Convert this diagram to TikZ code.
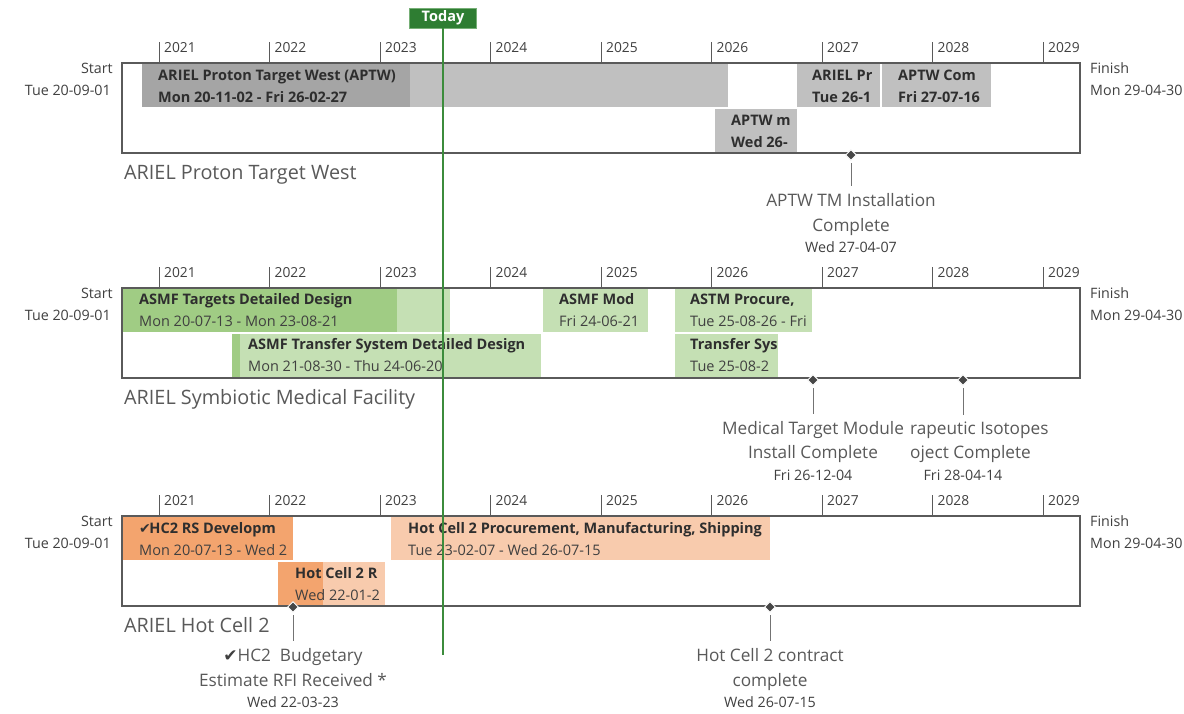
\documentclass[tikz,border=0pt]{standalone}
\usepackage{fontspec}
\setmainfont{Open Sans}
\usetikzlibrary{shapes.geometric}
\newcommand\pxf[1]{\fontsize{#1}{#1}\selectfont}
\definecolor{boxline}{HTML}{5A5A5A}
\definecolor{txtgray}{HTML}{404040}
\definecolor{lblgray}{HTML}{595959}
\definecolor{gDark}{HTML}{A5A5A5}
\definecolor{gLight}{HTML}{C0C0C0}
\definecolor{grDark}{HTML}{A0CC84}
\definecolor{grLight}{HTML}{C5E0B4}
\definecolor{orDark}{HTML}{F3A46E}
\definecolor{orLight}{HTML}{F8CBAD}
\definecolor{todayG}{HTML}{2E7D32}
\definecolor{todayL}{HTML}{3C8C3C}
\tikzset{
  bartitle/.style={anchor=mid west, inner sep=0pt, font=\pxf{14.5}\bfseries, text=black!82},
  bardate/.style={anchor=mid west, inner sep=0pt, font=\pxf{14.5}, text=txtgray},
  bardateb/.style={anchor=mid west, inner sep=0pt, font=\pxf{14.5}\bfseries, text=black!82},
  yearlbl/.style={anchor=mid west, inner sep=0pt, font=\pxf{13.8}, text=txtgray},
  ticks/.style={draw=boxline, line width=0.9pt},
  secbox/.style={draw=boxline, line width=1.3pt},
  sidelblR/.style={anchor=mid east, inner sep=0pt, font=\pxf{14.3}, text=txtgray},
  sidelblL/.style={anchor=mid west, inner sep=0pt, font=\pxf{14.3}, text=txtgray},
  sectitle/.style={anchor=mid west, inner sep=0pt, font=\pxf{19.8}, text=lblgray},
  mstone/.style={diamond, fill=black!72, draw=white, line width=1pt, minimum size=11pt, inner sep=0pt},
  mlbl/.style={anchor=mid, inner sep=0pt, font=\pxf{17.2}, text=lblgray},
  mdate/.style={anchor=mid, inner sep=0pt, font=\pxf{14.3}, text=txtgray},
  mlblw/.style={anchor=mid west, inner sep=0pt, font=\pxf{17.2}, text=lblgray},
  conn/.style={draw=black!55, line width=0.8pt},
}
\begin{document}
\begin{tikzpicture}[x=1pt,y=-1pt]
\useasboundingbox (0,0) rectangle (1184,713);
\fill[white] (0,0) rectangle (1184,713);

% ---------- common axes ----------
\foreach \T/\s in {63/a,288/b,516/c}{
  \foreach \i in {0,...,8}{
    \pgfmathsetmacro\xx{159+110.5*\i}
    \pgfmathtruncatemacro\yr{2021+\i}
    \draw[ticks] (\xx,\T-21) -- (\xx,\T);
    \node[yearlbl] (yr\s\i) at (\xx+5,\T-13) {\yr};
  }
  \node[sidelblR] (st\s) at (113,\T+8) {Start};
  \node[sidelblR] (sd\s) at (111,\T+30) {Tue 20-09-01};
  \node[sidelblL] (fi\s) at (1090,\T+8) {Finish};
  \node[sidelblL] (fd\s) at (1090,\T+30) {Mon 29-04-30};
}

% ---------- Section 1 ----------
\fill[gDark] (142,64) rectangle (410,107);
\fill[gLight] (410,64) rectangle (728,107);
\fill[gLight] (797,64) rectangle (880,107);
\fill[gLight] (882,64) rectangle (991,107);
\fill[gLight] (715,109) rectangle (797,153);
\draw[secbox] (122,63) rectangle (1080,153);
\node[bartitle] (a1t) at (158,78) {ARIEL Proton Target West (APTW)};
\node[bardateb] (a1d) at (158,100) {Mon 20-11-02 - Fri 26-02-27};
\node[bartitle] (a2t) at (812,78) {ARIEL Pr};
\node[bardateb] (a2d) at (812,100) {Tue 26-1};
\node[bartitle] (a3t) at (898,78) {APTW Com};
\node[bardateb] (a3d) at (898,100) {Fri 27-07-16};
\node[bartitle] (a4t) at (731,123) {APTW m};
\node[bardateb] (a4d) at (731,145) {Wed 26-};
\node[sectitle] (s1) at (124,177) {ARIEL Proton Target West};
\node[mstone] (m1) at (851,155) {};
\node[mlbl] (m1a) at (851,204) {APTW TM Installation};
\node[mlbl] (m1b) at (851,229) {Complete};
\node[mdate] (m1c) at (851,250) {Wed 27-04-07};
\draw[conn] ([yshift=-8pt]m1.center) -- ([yshift=7pt]m1a.north);

% ---------- Section 2 ----------
\fill[grDark] (122,289) rectangle (397,332);
\fill[grLight] (397,289) rectangle (450,332);
\fill[grLight] (543,289) rectangle (648,332);
\fill[grLight] (675,289) rectangle (812,332);
\fill[grDark] (232,334) rectangle (240,378);
\fill[grLight] (240,334) rectangle (541,378);
\fill[grLight] (675,334) rectangle (778,378);
\draw[secbox] (122,288) rectangle (1080,378);
\node[bartitle] (b1t) at (139,302) {ASMF Targets Detailed Design};
\node[bardate] (b1d) at (139,324) {Mon 20-07-13 - Mon 23-08-21};
\node[bartitle] (b2t) at (559,302) {ASMF Mod};
\node[bardate] (b2d) at (559,324) {Fri 24-06-21};
\node[bartitle] (b3t) at (690,302) {ASTM Procure,};
\node[bardate] (b3d) at (690,324) {Tue 25-08-26 - Fri};
\node[bartitle] (b4t) at (248,347) {ASMF Transfer System Detailed Design};
\node[bardate] (b4d) at (248,369) {Mon 21-08-30 - Thu 24-06-20};
\node[bartitle] (b5t) at (690,347) {Transfer Sys};
\node[bardate] (b5d) at (690,369) {Tue 25-08-2};
\node[sectitle] (s2) at (124,402) {ARIEL Symbiotic Medical Facility};
\node[mstone] (m2) at (813,380) {};
\node[mstone] (m3) at (963,380) {};
\node[mlblw] (m3a) at (910,432) {rapeutic Isotopes};
\node[mlblw] (m3b) at (910,456) {oject Complete};
\node[mdate] (m3c) at (963,478) {Fri 28-04-14};
\node[mlbl, fill=white, inner xsep=1pt] (m2a) at (813,432) {Medical Target Module};
\node[mlbl] (m2b) at (813,456) {Install Complete};
\node[mdate] (m2c) at (813,478) {Fri 26-12-04};
\draw[conn] ([yshift=-8pt]m2.center) -- ([yshift=7pt]m2a.north);
\draw[conn] ([yshift=-8pt]m3.center) -- (963,415);

% ---------- Section 3 ----------
\fill[orDark] (122,517) rectangle (293,560);
\fill[orLight] (391,517) rectangle (770,560);
\fill[orDark] (278,562) rectangle (323,606);
\fill[orLight] (323,562) rectangle (385,606);
\draw[secbox] (122,516) rectangle (1080,606);
\node[bartitle] (c1t) at (139,531) {\fontspec{DejaVu Sans}\pxf{14}\textcolor{black!80}{✔}\hspace{-1.5pt}\fontspec{Open Sans}\bfseries\pxf{14.5}HC2 RS Developm};
\node[bardate] (c1d) at (139,553) {Mon 20-07-13 - Wed 2};
\node[bartitle] (c2t) at (408,531) {Hot Cell 2 Procurement, Manufacturing, Shipping};
\node[bardate] (c2d) at (408,553) {Tue 23-02-07 - Wed 26-07-15};
\node[bartitle] (c3t) at (295,576) {Hot Cell 2 R};
\node[bardate] (c3d) at (295,598) {Wed 22-01-2};
\node[sectitle] (s3) at (124,630) {ARIEL Hot Cell 2};
\node[mstone] (m4) at (293,607) {};
\node[mlbl] (m4a) at (293,659) {\fontspec{DejaVu Sans}\pxf{17}\textcolor{black!75}{✔}\fontspec{Open Sans}\pxf{17.2}HC2\ \ Budgetary};
\node[mlbl] (m4b) at (293,684) {Estimate RFI Received *};
\node[mdate] (m4c) at (293,705) {Wed 22-03-23};
\draw[conn] ([yshift=-8pt]m4.center) -- ([yshift=7pt]m4a.north);
\node[mstone] (m5) at (770,607) {};
\node[mlbl] (m5a) at (770,659) {Hot Cell 2 contract};
\node[mlbl] (m5b) at (770,684) {complete};
\node[mdate] (m5c) at (770,705) {Wed 26-07-15};
\draw[conn] ([yshift=-8pt]m5.center) -- ([yshift=7pt]m5a.north);

% ---------- Today ----------
\node[fill=todayG, draw=todayL!70!white, line width=0.8pt, minimum width=67pt, minimum height=20pt, inner sep=0pt, text=white, font=\pxf{14.5}\bfseries] (today) at (443,18) {Today};
\coordinate (todayend) at (443,655);
\draw[todayL, line width=1.1pt] (today.south) -- (todayend);
\end{tikzpicture}
\end{document}
